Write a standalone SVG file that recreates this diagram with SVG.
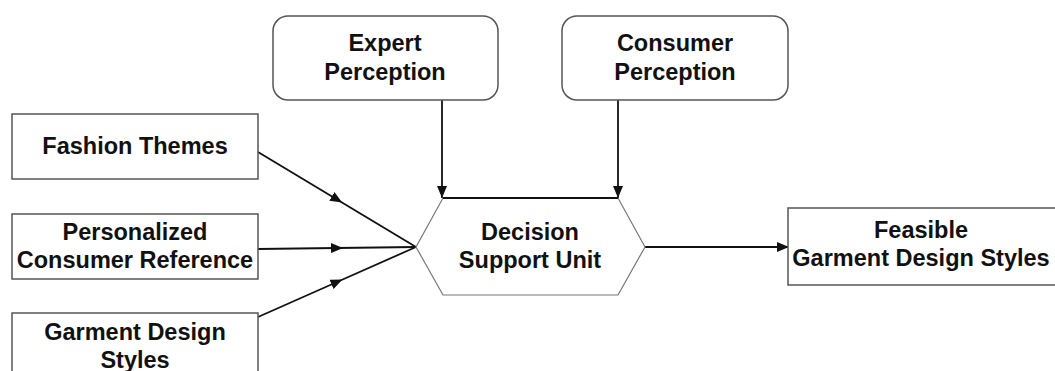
<svg xmlns="http://www.w3.org/2000/svg" width="1055" height="371" viewBox="0 0 1055 371">
  <style>
    .box { fill: #ffffff; stroke: #555555; stroke-width: 1.5; }
    .hex { fill: #ffffff; stroke: #777777; stroke-width: 1.2; }
    .lbl { font-family: "Liberation Sans", Arial, sans-serif; font-size: 23.5px; font-weight: bold; fill: #111111; text-anchor: middle; }
    .edge { stroke: #111111; stroke-width: 1.8; fill: none; }
  </style>
  <defs>
    <marker id="arrowEnd" viewBox="0 0 12 10" refX="12" refY="5" markerWidth="12" markerHeight="10" markerUnits="userSpaceOnUse" orient="auto">
      <path d="M0,0 L12,5 L0,10 z" fill="#111111"/>
    </marker>
    <marker id="arrowMid" viewBox="0 0 12 10" refX="6" refY="5" markerWidth="12" markerHeight="10" markerUnits="userSpaceOnUse" orient="auto">
      <path d="M0,0 L12,5 L0,10 z" fill="#111111"/>
    </marker>
  </defs>
  <rect width="1055" height="371" fill="#ffffff"/>

  <g id="connectors">
    <path class="edge" d="M258,152 L337,199.5 L416,247" marker-mid="url(#arrowMid)"/>
    <path class="edge" d="M258,249 L337,248 L416,247" marker-mid="url(#arrowMid)"/>
    <path class="edge" d="M258,317 L337,282 L416,247" marker-mid="url(#arrowMid)"/>
    <path class="edge" d="M442,100 L442,198" marker-end="url(#arrowEnd)"/>
    <path class="edge" d="M618,100 L618,198" marker-end="url(#arrowEnd)"/>
    <path class="edge" d="M645,247 L789,247" marker-end="url(#arrowEnd)"/>
  </g>

  <g id="fashion-themes">
    <rect class="box" x="12" y="114" width="246" height="65"/>
    <text class="lbl" x="135" y="154">Fashion Themes</text>
  </g>
  <g id="personalized-consumer-reference">
    <rect class="box" x="12" y="214" width="246" height="65"/>
    <text class="lbl" x="135" y="240">Personalized</text>
    <text class="lbl" x="135" y="268">Consumer Reference</text>
  </g>
  <g id="garment-design-styles">
    <rect class="box" x="12" y="313" width="246" height="70"/>
    <text class="lbl" x="135" y="340">Garment Design</text>
    <text class="lbl" x="135" y="368">Styles</text>
  </g>
  <g id="expert-perception">
    <rect class="box" x="273" y="16" width="225" height="84" rx="15" ry="15"/>
    <text class="lbl" x="385" y="51">Expert</text>
    <text class="lbl" x="385" y="80">Perception</text>
  </g>
  <g id="consumer-perception">
    <rect class="box" x="562" y="16" width="226" height="84" rx="15" ry="15"/>
    <text class="lbl" x="675" y="51">Consumer</text>
    <text class="lbl" x="675" y="80">Perception</text>
  </g>
  <g id="decision-support-unit">
    <polygon class="hex" points="443,198 618,198 645,247 618,295 443,295 416,247"/>
    <line x1="443" y1="198" x2="618" y2="198" stroke="#111111" stroke-width="1.8"/>
    <text class="lbl" x="530" y="240">Decision</text>
    <text class="lbl" x="530" y="268">Support Unit</text>
  </g>
  <g id="feasible-garment-design-styles">
    <rect class="box" x="788" y="208" width="280" height="77"/>
    <text class="lbl" x="921" y="238">Feasible</text>
    <text class="lbl" x="921" y="266">Garment Design Styles</text>
  </g>
</svg>
